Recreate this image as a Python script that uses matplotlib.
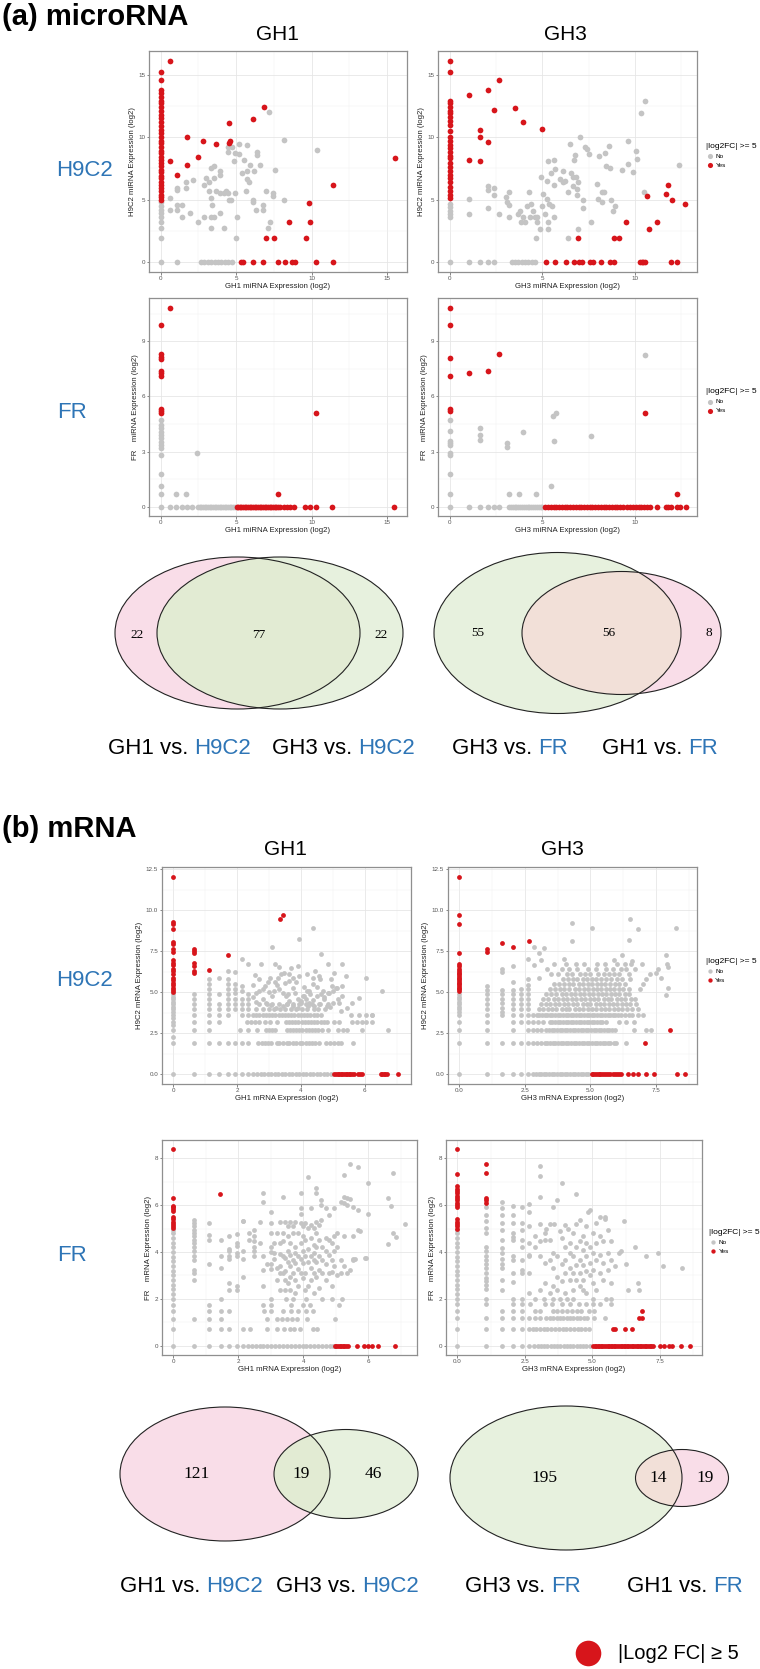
import numpy as np
import matplotlib
matplotlib.use('Agg')
import matplotlib.pyplot as plt
from matplotlib.patches import Ellipse

plt.rcParams['font.family'] = ['Liberation Sans', 'DejaVu Sans']

# ---------------------------------------------------------------- data
RED = '#D7151B'
GRAY = '#C4C4C4'
BLUE = '#2E75B6'

# (a) microRNA, H9C2 vs GH1
a1_red_cols = {0.0: [15.2, 14.6, 13.8, 13.5, 13.2, 12.9, 12.7, 12.4, 12.1, 11.8, 11.5, 11.2, 10.9, 10.6,
                     10.3, 10.0, 9.7, 9.5, 9.2, 8.9, 8.7, 8.4, 8.2, 7.9, 7.7, 7.4, 7.2, 6.9, 6.7, 6.4,
                     6.2, 5.9, 5.7, 5.4, 5.2, 5.0]}
a1_red_rows = {0.0: [5.35, 5.45, 6.1, 6.8, 7.8, 8.25, 8.7, 8.9, 10.3, 11.4]}
a1_red_pairs = [(0.64, 16.1), (0.64, 8.1), (1.1, 7.0), (1.75, 10.0), (1.75, 7.8), (2.5, 8.4), (2.8, 9.7),
                (3.65, 9.45), (4.5, 11.15), (4.5, 9.55), (4.6, 9.7), (6.1, 11.45), (6.85, 12.4),
                (9.85, 4.7), (11.4, 6.2), (8.5, 3.2), (9.9, 3.2), (7.0, 1.9), (7.5, 1.9), (9.6, 1.9),
                (15.55, 8.3)]
a1_gray_cols = {0.0: [0, 1.9, 2.7, 3.2, 3.6, 3.9, 4.2, 4.5, 4.8]}
a1_gray_rows = {0.0: [1.1, 2.65, 2.85, 3.13, 3.36, 3.58, 3.8, 4.02, 4.24, 4.46, 4.72]}
a1_gray_pairs = [(0.64, 5.1), (0.64, 4.15), (1.1, 5.95), (1.1, 5.8), (1.1, 4.55), (1.1, 4.15), (1.43, 4.55),
                 (1.43, 3.6), (1.7, 6.4), (1.7, 5.9), (1.96, 3.9), (2.14, 6.6), (2.5, 3.2), (2.85, 6.2),
                 (3.0, 6.7), (2.9, 3.6), (3.2, 6.4), (3.2, 5.7), (3.3, 7.5), (3.3, 5.1), (3.3, 3.6),
                 (3.3, 2.7), (3.5, 7.7), (3.5, 6.7), (3.5, 3.6), (3.4, 4.55), (3.65, 5.7), (3.9, 6.95),
                 (3.9, 3.9), (3.9, 7.3), (3.95, 5.55), (4.2, 2.7), (4.2, 5.5), (4.35, 5.7), (4.45, 9.2),
                 (4.45, 8.8), (4.45, 5.5), (4.5, 5.0), (4.65, 5.0), (4.75, 9.2), (4.85, 8.1), (4.9, 8.7),
                 (4.9, 5.55), (5.0, 1.9), (5.05, 3.6), (5.2, 9.45), (5.2, 8.65), (5.4, 7.15), (5.5, 8.15),
                 (5.65, 5.65), (5.7, 9.35), (5.7, 7.3), (5.75, 6.65), (5.85, 6.4), (5.95, 7.8), (6.1, 5.0),
                 (6.15, 4.8), (6.2, 7.3), (6.3, 4.15), (6.35, 8.8), (6.35, 8.55), (6.55, 7.75), (6.75, 4.55),
                 (6.75, 4.15), (7.0, 5.65), (7.1, 2.7), (7.2, 12.0), (7.25, 3.2), (7.45, 5.5), (7.45, 5.3),
                 (7.6, 7.35), (8.15, 9.75), (8.15, 5.0), (10.35, 8.95)]

# (a) microRNA, H9C2 vs GH3
a2_red_cols = {0.0: [16.1, 15.2, 12.9, 12.7, 12.4, 12.1, 11.9, 11.6, 11.3, 11.0, 10.5, 10.0, 9.7, 9.4, 9.1,
                     8.8, 8.5, 8.3, 7.9, 7.6, 7.3, 7.0, 6.7, 6.4, 6.0, 5.7, 5.4, 5.1]}
a2_red_rows = {0.0: [5.18, 5.68, 6.26, 6.73, 6.96, 7.12, 7.57, 7.75, 8.15, 8.65, 8.87, 10.27, 10.36, 10.45,
                     10.54, 11.92, 12.25]}
a2_red_pairs = [(1.04, 13.35), (2.05, 13.75), (2.63, 14.55), (2.37, 12.2), (3.53, 12.35), (3.97, 11.23),
                (4.96, 10.64), (1.64, 10.6), (1.64, 10.0), (2.05, 9.63), (1.04, 8.2), (1.64, 8.1),
                (10.65, 5.27), (11.78, 6.2), (11.67, 5.45), (11.98, 4.97), (12.7, 4.68), (11.17, 3.2),
                (10.77, 2.67), (9.51, 3.2), (6.9, 1.9), (8.87, 1.9), (9.14, 1.9)]
a2_gray_cols = {0.0: [0, 3.6, 3.85, 4.1, 4.4, 4.65]}
a2_gray_rows = {0.0: [1.04, 1.64, 2.05, 2.37, 3.35, 3.53, 3.7, 3.88, 4.06, 4.24, 4.42, 4.6]}
a2_gray_pairs = [(1.04, 5.05), (1.04, 3.85), (2.05, 6.12), (2.05, 5.78), (2.05, 4.3), (2.37, 5.9), (2.37, 5.37),
                 (2.63, 3.85), (3.04, 5.24), (3.08, 4.84), (3.22, 5.64), (3.22, 4.57), (3.22, 3.58),
                 (3.7, 3.85), (3.79, 4.12), (3.85, 3.2), (3.94, 3.58), (4.06, 3.2), (4.15, 4.52), (4.3, 5.64),
                 (4.33, 3.58), (4.39, 4.65), (4.51, 4.12), (4.6, 3.58), (4.66, 1.9), (4.73, 3.2), (4.73, 3.58),
                 (4.87, 2.67), (4.91, 6.79), (5.0, 4.52), (5.02, 5.45), (5.14, 3.85), (5.23, 6.52),
                 (5.27, 5.05), (5.3, 3.2), (5.3, 2.67), (5.32, 8.07), (5.38, 4.65), (5.45, 7.11), (5.5, 4.52),
                 (5.6, 6.2), (5.6, 8.18), (5.63, 3.58), (5.68, 7.46), (5.95, 6.66), (6.1, 7.27), (6.13, 6.39),
                 (6.22, 6.52), (6.4, 5.64), (6.4, 1.9), (6.49, 9.44), (6.53, 7.11), (6.64, 6.79), (6.67, 6.12),
                 (6.71, 8.18), (6.76, 8.58), (6.82, 6.79), (6.85, 5.86), (6.89, 5.37), (6.94, 6.39),
                 (6.94, 2.67), (7.03, 10.03), (7.21, 5.0), (7.21, 4.33), (7.3, 9.2), (7.43, 9.09), (7.54, 8.66),
                 (7.61, 3.2), (7.97, 6.26), (8.02, 5.05), (8.07, 8.53), (8.2, 5.59), (8.2, 4.79), (8.33, 5.64),
                 (8.38, 8.74), (8.43, 7.65), (8.62, 9.33), (8.65, 7.51), (8.69, 4.97), (8.79, 4.12),
                 (8.92, 4.52), (9.28, 7.33), (9.64, 9.73), (9.64, 7.81), (9.91, 7.19), (10.04, 8.93),
                 (10.09, 8.26), (10.31, 11.95), (10.54, 12.89), (10.49, 5.64), (12.39, 7.78)]

# (a) microRNA, FR vs GH1
a3_red_cols = {0.0: [9.86, 8.28, 8.16, 8.03, 7.38, 7.25, 7.12, 5.29, 5.22, 5.11]}
a3_red_rows = {0.0: [5.06, 5.15, 5.23, 5.34, 5.45, 5.56, 5.67, 5.78, 5.89, 6.0, 6.11, 6.22, 6.34, 6.45, 6.56,
                     6.67, 6.78, 6.89, 7.0, 7.11, 7.22, 7.33, 7.44, 7.55, 7.66, 7.77, 7.88, 8.15, 8.37, 8.59,
                     8.81, 9.56, 9.91, 10.31, 11.35, 15.5]}
a3_red_pairs = [(0.6, 10.8), (10.29, 5.11), (7.77, 0.69)]
a3_gray_cols = {0.0: [0, 0.69, 1.14, 1.78, 2.81, 3.21, 3.35, 3.53, 3.72, 3.9, 4.08, 4.26, 4.44, 4.71]}
a3_gray_rows = {0.0: [0.6, 1.04, 1.41, 1.74, 2.08, 2.47, 2.58, 2.69, 2.8, 2.91, 3.02, 3.13, 3.24, 3.36, 3.47,
                      3.58, 3.69, 3.8, 3.91, 4.02, 4.13, 4.24, 4.35, 4.46, 4.57, 4.68, 4.79, 4.9]}
a3_gray_pairs = [(2.43, 2.92), (1.04, 0.69), (1.7, 0.69)]

# (a) microRNA, FR vs GH3
a4_red_cols = {0.0: [10.8, 9.86, 8.08, 7.12, 5.29, 5.22]}
a4_red_rows = {0.0: [5.15, 5.3, 5.45, 5.6, 5.75, 5.9, 6.05, 6.2, 6.35, 6.5, 6.65, 6.8, 6.95, 7.1, 7.25, 7.4,
                     7.55, 7.7, 7.85, 8.0, 8.15, 8.3, 8.45, 8.6, 8.75, 8.9, 9.05, 9.2, 9.35, 9.55, 9.75, 9.9,
                     10.05, 10.2, 10.35, 10.5, 10.65, 10.8, 11.2, 11.67, 11.8, 11.92, 12.25, 12.43, 12.73]}
a4_red_pairs = [(1.04, 7.25), (2.05, 7.38), (2.64, 8.28), (10.56, 5.11), (12.25, 0.69)]
a4_gray_cols = {0.0: [0, 0.69, 1.78, 2.81, 2.94, 3.37, 3.48, 3.59, 4.1, 4.71]}
a4_gray_rows = {0.0: [1.04, 1.64, 2.05, 2.37, 2.64, 3.2, 3.3, 3.4, 3.5, 3.6, 3.7, 3.8, 3.9, 4.0, 4.1, 4.2,
                      4.3, 4.4, 4.5, 4.6, 4.7, 4.8, 4.9, 4.97]}
a4_gray_pairs = [(1.64, 4.3), (1.64, 3.93), (1.64, 3.63), (3.08, 3.48), (3.08, 3.23), (3.22, 0.69),
                 (3.76, 0.69), (3.97, 4.06), (4.66, 0.69), (5.49, 1.14), (5.59, 4.93), (5.72, 5.11),
                 (5.65, 3.57), (7.61, 3.84), (10.56, 8.23)]

# (b) mRNA, H9C2 vs GH1
b1_red_cols = {0.0: [12.05, 9.29, 9.15, 8.84, 8.09, 7.93, 7.62, 7.46, 6.95, 6.81, 6.65, 6.44, 6.3, 6.1, 5.89,
                     5.75, 5.59, 5.43, 5.28, 5.14, 5.02],
               0.66: [7.62, 7.52, 7.38, 6.81, 6.6, 6.3, 6.15]}
b1_red_rows = {0.0: [5.05, 5.1, 5.15, 5.2, 5.25, 5.3, 5.35, 5.4, 5.45, 5.5, 5.55, 5.6, 5.65, 5.8, 5.85, 5.9,
                     6.5, 6.55, 6.6, 6.65, 6.7, 7.05]}
b1_red_pairs = [(1.11, 6.34), (1.72, 7.3), (3.36, 9.45), (3.43, 9.72)]
b1_gray_cols = {0.0: [0, 1.91, 2.3, 2.7, 3.0, 3.2, 3.4, 3.6, 3.8, 3.96, 4.1, 4.27, 4.4, 4.57, 4.7, 4.88],
                0.66: [1.91, 2.7, 3.2, 3.6, 3.96, 4.27, 4.57, 4.88],
                1.11: [1.91, 2.7, 3.2, 3.6, 3.96, 4.27, 4.57, 4.88, 5.18, 5.49, 5.83],
                1.45: [1.91, 3.2, 3.6, 3.96, 4.27, 4.88, 5.9],
                1.72: [1.91, 3.6, 3.96, 4.27, 4.57, 4.88, 5.18, 5.49, 5.8, 6.3],
                1.95: [1.91, 3.96, 4.27, 4.57, 4.98, 5.18, 5.49, 6.24],
                2.17: [1.91, 3.6, 3.96, 4.27, 4.57, 5.08, 5.39, 7.05],
                2.34: [1.91, 2.7, 3.6, 3.96, 4.27, 4.57, 4.88, 6.7]}
b1_gray_rows = {0.0: [0.66, 1.11, 1.45, 1.72, 1.95, 2.17, 2.34, 2.5, 2.62, 2.74, 2.85, 2.96, 3.07, 3.18, 3.29,
                      3.4, 3.51, 3.62, 3.73, 3.84, 3.95, 4.06, 4.17, 4.28, 4.39, 4.5, 4.61, 4.72, 4.83, 4.94],
                1.91: [2.65, 2.77, 2.87, 2.96, 3.08, 3.24, 3.33, 3.43, 3.55, 3.64, 3.74, 3.86, 3.96, 4.05, 4.17,
                       4.27, 4.36, 4.45, 4.58, 4.8, 4.92, 5.05, 5.17, 5.26, 5.64],
                2.7: [2.1, 2.62, 2.9, 3.0, 3.1, 3.2, 3.55, 3.65, 3.75, 3.85, 3.95, 4.05, 4.15, 4.25, 4.35, 4.45,
                      4.55, 4.65, 4.85, 5.15, 5.32, 5.45, 5.9, 6.73],
                3.2: [2.3, 2.43, 2.55, 2.68, 2.87, 3.02, 3.24, 3.52, 3.62, 3.72, 3.82, 3.92, 4.02, 4.12, 4.22,
                      4.32, 4.42, 4.52, 4.62, 4.72, 4.83, 5.05, 5.2, 5.6, 5.76, 5.9, 6.05, 6.23],
                3.6: [2.49, 2.6, 2.7, 2.8, 2.9, 3.0, 3.1, 3.2, 3.3, 3.4, 3.5, 3.6, 3.7, 3.8, 3.9, 4.0, 4.1, 4.2,
                      4.3, 4.4, 4.5, 4.64, 5.58, 5.83, 6.04, 6.23],
                3.96: [2.6, 2.8, 3.0, 3.15, 3.35, 3.5, 3.7, 3.85, 4.2, 4.4, 4.55, 4.75],
                4.27: [2.7, 2.95, 3.1, 3.3, 3.55, 3.75, 3.95, 4.15, 4.35, 4.6, 4.85]}
b1_gray_pairs = [(3.93, 8.23), (3.09, 7.76), (3.9, 6.61), (4.64, 7.32), (4.38, 5.89), (4.57, 6.0), (4.39, 5.49),
                 (3.74, 5.28), (3.82, 4.98), (4.1, 4.78), (4.26, 5.08), (4.16, 4.57), (4.0, 4.37), (3.64, 4.47),
                 (3.53, 4.78), (3.43, 4.98), (3.32, 5.18), (3.24, 5.43), (3.2, 5.65), (3.27, 5.89), (3.38, 6.1),
                 (3.48, 6.2), (3.62, 6.1), (3.74, 5.89), (3.64, 5.69), (3.51, 5.55), (3.04, 5.89), (2.96, 5.65),
                 (2.89, 5.39), (2.81, 5.18), (2.7, 5.08), (2.6, 4.98), (2.49, 5.43), (2.81, 4.57), (2.91, 4.37),
                 (3.06, 4.2), (3.22, 4.07), (3.43, 4.17), (3.74, 4.17), (3.9, 4.07), (4.05, 3.96), (4.21, 4.17),
                 (4.42, 4.17), (4.57, 4.27), (4.73, 4.57), (4.88, 4.98), (4.99, 5.39), (5.14, 5.28), (5.3, 5.39),
                 (5.4, 6.0), (4.83, 4.17), (5.02, 4.33), (5.17, 4.57), (5.3, 4.78), (5.45, 4.07), (5.61, 4.37),
                 (5.82, 4.67), (6.23, 3.6), (4.37, 8.94), (4.84, 6.7), (5.3, 6.7), (5.05, 6.2), (4.94, 5.8),
                 (4.6, 5.83), (6.05, 5.9), (6.53, 5.08), (5.25, 3.86), (5.2, 4.33), (4.92, 4.13), (5.1, 5.28),
                 (5.0, 5.08), (4.84, 4.98), (4.63, 4.88), (4.49, 4.78), (4.73, 4.72), (4.37, 4.53), (4.27, 4.37),
                 (4.18, 5.08), (4.06, 4.78), (4.0, 4.47), (2.75, 6.7), (3.3, 6.55), (3.2, 6.7), (2.5, 4.7),
                 (2.6, 4.4), (3.1, 4.8), (3.6, 4.9), (3.85, 5.6), (4.1, 5.3), (3.95, 6.0), (4.5, 5.3), (4.7, 5.1),
                 (3.0, 5.0), (3.15, 5.1), (3.9, 4.6), (3.55, 4.3), (4.3, 4.9), (4.45, 6.3), (3.7, 6.5),
                 (4.2, 6.1), (2.55, 6.05), (2.7, 5.8)]

# (b) mRNA, H9C2 vs GH3
b2_red_cols = {0.0: [12.05, 9.7, 9.17, 7.38, 6.75, 6.6, 6.44, 6.3, 6.2, 6.1, 6.0, 5.9, 5.79, 5.69, 5.59, 5.49,
                     5.39, 5.28, 5.18, 5.08]}
b2_red_rows = {0.0: [5.04, 5.1, 5.17, 5.24, 5.31, 5.38, 5.45, 5.52, 5.6, 5.68, 5.76, 5.84, 5.92, 6.0, 6.08,
                     6.18, 6.43, 6.62, 6.81, 7.13, 7.41, 8.31, 8.62]}
b2_red_pairs = [(1.04, 7.62), (1.04, 7.46), (1.62, 8.0), (2.06, 7.76), (2.64, 8.11), (8.02, 2.7), (7.09, 1.91)]
b2_gray_cols = {0.0: [0, 1.91, 2.7, 3.2, 3.6, 3.8, 3.96, 4.1, 4.27, 4.4, 4.57, 4.7, 4.88],
                1.04: [0, 1.91, 2.7, 3.2, 3.6, 3.96, 4.27, 4.57, 4.88, 5.14, 5.39],
                1.62: [0, 1.91, 3.6, 3.8, 4.07, 4.33, 4.61, 4.88, 5.12, 6.26, 6.4],
                2.06: [0, 1.91, 2.7, 3.2, 3.6, 3.96, 4.27, 4.61, 4.92, 5.12, 5.65, 6.6],
                2.37: [0, 1.91, 3.2, 3.6, 3.96, 4.27, 4.57, 4.88, 5.18],
                2.63: [0, 1.91, 2.7, 3.2, 3.6, 3.96, 4.27, 4.57, 4.88, 5.18, 5.45, 5.83, 7.05]}
b2_gray_rows = {0.0: [2.82, 2.92, 3.02, 3.12, 3.22, 3.32, 3.42, 3.52, 3.62, 3.72, 3.82, 3.92, 4.02, 4.12, 4.22,
                      4.32, 4.42, 4.52, 4.62, 4.72, 4.82, 4.92],
                1.91: [2.82, 2.97, 3.1, 3.26, 3.36, 3.46, 3.56, 3.66, 3.76, 3.86, 3.96, 4.06, 4.16, 4.26, 4.36,
                       4.46, 4.56, 4.66, 4.76, 4.86, 4.96, 5.06, 5.16, 5.26, 5.36, 5.46, 5.56, 5.66, 5.76, 5.88,
                       5.99, 6.35],
                2.7: [2.82, 2.97, 3.13, 3.32, 3.42, 3.52, 3.62, 3.72, 3.82, 3.92, 4.02, 4.12, 4.22, 4.32, 4.42,
                      4.52, 4.62, 4.72, 4.82, 4.92, 5.02, 5.12, 5.22, 5.32, 5.42, 5.52, 5.62, 5.72, 5.82, 5.93,
                      6.66, 7.13, 7.32],
                3.2: [2.82, 3.0, 3.2, 3.45, 3.55, 3.65, 3.75, 3.85, 3.95, 4.05, 4.15, 4.25, 4.35, 4.45, 4.55,
                      4.65, 4.75, 4.85, 4.95, 5.05, 5.15, 5.25, 5.35, 5.45, 5.6, 6.09, 6.37, 6.66],
                3.6: [2.82, 2.95, 3.05, 3.15, 3.25, 3.35, 3.45, 3.55, 3.65, 3.75, 3.85, 3.95, 4.05, 4.15, 4.25,
                      4.35, 4.45, 4.55, 4.65, 4.75, 4.85, 4.95, 5.05, 5.15, 5.25, 5.35, 5.45, 5.55, 5.65, 5.75,
                      5.85, 5.95, 6.05, 6.15, 6.3, 6.45, 6.6, 6.8, 7.0],
                3.96: [3.05, 3.2, 3.4, 3.55, 3.7, 3.9, 4.05, 4.2, 4.4, 4.55, 4.7, 4.9, 5.05, 5.2, 5.4, 5.55, 5.7,
                       5.9, 6.05, 6.2, 6.4, 6.6, 6.8],
                4.27: [3.1, 3.3, 3.45, 3.65, 3.8, 4.0, 4.15, 4.35, 4.5, 4.7, 4.85, 5.0, 5.2, 5.35, 5.5, 5.7, 5.85,
                       6.0, 6.2, 6.35, 6.5, 6.75],
                4.57: [3.2, 3.4, 3.6, 3.75, 3.95, 4.1, 4.3, 4.45, 4.65, 4.8, 5.0, 5.15, 5.3, 5.5, 5.65, 5.8, 6.0,
                       6.15, 6.3, 6.55, 6.7],
                4.88: [3.3, 3.5, 3.7, 3.9, 4.05, 4.25, 4.4, 4.6, 4.75, 4.95, 5.1, 5.3, 5.45, 5.6, 5.8, 5.95, 6.1,
                       6.3, 6.45],
                5.18: [3.45, 3.65, 3.85, 4.0, 4.2, 4.4, 4.55, 4.75, 4.9, 5.1, 5.25, 5.4, 5.6, 5.75, 5.9, 6.1,
                       6.25, 6.45, 6.9],
                5.49: [3.6, 3.8, 4.0, 4.2, 4.35, 4.55, 4.7, 4.9, 5.05, 5.25, 5.4, 5.55, 5.75, 5.95, 6.1, 6.3, 7.0],
                5.8: [3.95, 4.15, 4.35, 4.5, 4.7, 4.85, 5.05, 5.2, 5.4, 5.6, 5.8, 6.0, 6.2, 6.5, 7.1],
                6.1: [3.5, 3.75, 4.1, 4.3, 4.6, 4.8, 5.0, 5.3, 5.5, 5.7, 5.9, 6.1, 6.45, 7.25],
                6.4: [3.35, 3.9, 4.2, 4.5, 4.9, 5.2, 5.6, 5.85, 6.15, 6.35, 6.7, 7.58],
                6.7: [3.6, 4.05, 4.45, 4.75, 5.25, 5.55, 6.0, 6.3, 6.55, 6.95, 7.9]}
b2_gray_pairs = [(4.31, 9.25), (4.31, 8.11), (5.06, 8.9), (6.52, 9.45), (6.81, 8.84), (6.45, 8.19), (8.27, 8.92),
                 (6.19, 7.3), (7.87, 7.3), (7.96, 6.57), (7.68, 5.89), (7.96, 5.28), (7.89, 4.84), (2.86, 7.78),
                 (3.05, 7.42), (3.22, 7.7), (2.86, 6.65), (3.05, 5.89), (4.0, 7.05), (3.1, 7.0), (5.9, 7.0),
                 (6.6, 6.9), (7.5, 6.2)]

# (b) mRNA, FR vs GH1
b3_red_cols = {0.0: [8.38, 6.32, 5.98, 5.9, 5.82, 5.75, 5.5, 5.4, 5.3, 5.2, 5.1, 5.02]}
b3_red_rows = {0.0: [4.97, 5.02, 5.07, 5.12, 5.17, 5.22, 5.27, 5.32, 5.37, 5.66, 5.88, 6.0, 6.12, 6.3, 6.83]}
b3_red_pairs = [(1.44, 6.46)]
b3_gray_cols = {0.0: [0, 0.71, 1.15, 1.46, 1.75, 2.0, 2.2, 2.4, 2.6, 2.8, 3.0, 3.2, 3.4, 3.6, 3.8, 4.0, 4.2,
                      4.4, 4.6, 4.8, 4.95],
                0.64: [0, 1.15, 2.81, 3.1, 3.24, 3.66, 3.81, 4.02, 4.23, 4.38, 4.52, 4.66, 4.8, 4.94, 5.09,
                       5.23, 5.37],
                1.11: [0, 0.71, 1.15, 1.46, 1.75, 3.49, 4.52, 4.73, 5.23],
                1.46: [0, 0.71, 1.15, 1.46, 2.0, 3.31, 3.81, 4.52],
                1.73: [0, 0.71, 1.46, 2.39, 2.67, 3.69, 3.81, 4.02, 4.12, 4.7],
                1.98: [0, 2.39, 2.53, 3.81, 3.95, 4.26, 4.38, 4.76],
                2.16: [0, 0.71, 2.93, 3.69, 4.02, 5.33]}
b3_gray_rows = {0.0: [2.3, 2.42, 2.54, 2.66, 2.78, 2.9, 3.02, 3.14, 3.26, 3.38, 3.5, 3.62, 3.74, 3.86, 3.98,
                      4.1, 4.22, 4.34, 4.46, 4.58, 4.7, 4.82, 4.92],
                0.71: [2.37, 2.89, 3.2, 3.42, 3.58, 3.72, 3.91, 4.31, 4.43],
                1.15: [2.89, 3.2, 3.35, 3.5, 3.66, 3.81, 4.12, 4.98],
                1.46: [2.8, 3.02, 3.38, 3.63, 3.85, 4.09, 4.31],
                1.75: [2.77, 3.02, 3.63, 4.0, 4.22, 5.1],
                2.0: [3.0, 3.48, 3.7, 4.09, 4.59, 4.9, 5.18]}
b3_gray_pairs = [(2.35, 4.83), (2.35, 4.52), (2.49, 4.94), (2.49, 4.66), (2.49, 4.45), (2.49, 4.23), (2.49, 4.02),
                 (2.49, 3.81), (2.66, 5.27), (2.66, 4.4), (2.78, 6.53), (2.78, 6.12), (2.78, 3.81), (2.78, 3.24),
                 (2.78, 2.53), (2.89, 3.49), (3.01, 5.72), (3.01, 5.23), (3.01, 4.8), (3.01, 4.23), (3.01, 3.98),
                 (3.01, 3.49), (3.01, 3.28), (3.09, 4.38), (3.09, 3.95), (3.09, 3.69), (3.2, 4.83), (3.2, 3.31),
                 (3.2, 2.81), (3.3, 5.26), (3.3, 4.4), (3.3, 3.91), (3.3, 3.38), (3.3, 3.1), (3.3, 2.39),
                 (3.38, 6.34), (3.38, 4.8), (3.38, 4.45), (3.38, 3.81), (3.38, 3.1), (3.45, 5.3), (3.45, 3.74),
                 (3.45, 3.17), (3.45, 2.81), (3.45, 2.39), (3.53, 5.09), (3.53, 4.66), (3.53, 4.02), (3.53, 3.59),
                 (3.53, 2.67), (3.61, 5.27), (3.61, 4.38), (3.61, 3.88), (3.61, 3.38), (3.61, 2.95), (3.61, 2.39),
                 (3.69, 5.09), (3.69, 4.8), (3.69, 3.66), (3.69, 3.1), (3.76, 5.3), (3.76, 4.23), (3.76, 3.95),
                 (3.76, 3.52), (3.76, 2.81), (3.76, 2.24), (3.85, 4.8), (3.85, 3.81), (3.85, 3.27), (3.85, 2.53),
                 (3.92, 6.51), (3.92, 5.87), (3.92, 5.63), (3.92, 5.23), (3.92, 4.38), (3.92, 3.69), (3.92, 3.1),
                 (4.0, 5.09), (4.0, 4.66), (4.0, 4.02), (4.0, 3.52), (4.0, 2.88), (4.07, 5.23), (4.07, 4.52),
                 (4.07, 3.81), (4.07, 3.1), (4.07, 2.39), (4.14, 7.22), (4.14, 5.01), (4.14, 4.12), (4.14, 3.55),
                 (4.14, 2.53), (4.23, 5.87), (4.23, 5.16), (4.23, 4.59), (4.23, 3.81), (4.23, 3.31), (4.23, 2.81),
                 (4.33, 5.01), (4.33, 4.3), (4.33, 3.95), (4.33, 3.66), (4.33, 3.1), (4.33, 2.24), (4.41, 6.72),
                 (4.41, 6.53), (4.41, 5.26), (4.41, 4.8), (4.41, 4.23), (4.41, 3.59), (4.41, 2.95), (4.49, 5.16),
                 (4.49, 4.52), (4.49, 3.81), (4.49, 3.24), (4.49, 2.46), (4.54, 6.22), (4.54, 6.01), (4.54, 5.37),
                 (4.59, 4.23), (4.59, 3.66), (4.59, 3.1), (4.69, 5.89), (4.69, 4.59), (4.69, 4.02), (4.69, 3.49),
                 (4.69, 2.81), (4.79, 5.58), (4.79, 4.52), (4.79, 3.88), (4.79, 3.1), (4.88, 4.38), (4.88, 3.66),
                 (4.88, 3.15), (4.88, 2.53), (4.95, 5.87), (4.95, 4.66), (4.95, 4.02), (4.95, 3.41), (5.05, 4.8),
                 (5.05, 4.23), (5.05, 3.03), (5.15, 6.15), (5.15, 3.66), (5.15, 3.1), (5.26, 7.29), (5.26, 6.36),
                 (5.26, 6.08), (5.26, 4.66), (5.26, 3.38), (5.36, 6.29), (5.36, 6.01), (5.36, 3.1), (5.44, 7.74),
                 (5.44, 6.25), (5.44, 3.24), (5.52, 5.94), (5.52, 4.66), (5.52, 3.66), (5.59, 3.69), (5.69, 7.64),
                 (5.69, 5.8), (5.69, 4.94), (5.75, 4.9), (5.93, 3.74), (5.98, 5.63), (5.98, 6.93), (6.77, 7.36),
                 (6.71, 5.98), (6.62, 6.29), (6.77, 4.8), (6.86, 4.62), (6.62, 4.33), (7.14, 5.18), (5.91, 3.76),
                 (5.54, 3.69), (2.16, 5.33)]

# (b) mRNA, FR vs GH3
b4_red_cols = {0.0: [8.39, 7.32, 6.8, 6.7, 6.6, 6.5, 6.4, 6.3, 6.2, 6.1, 6.0, 5.9, 5.4, 5.3, 5.2, 5.1, 5.0],
               1.06: [7.77, 7.39, 6.32, 6.22, 6.11]}
b4_red_rows = {0.0: [5.02, 5.09, 5.14, 5.21, 5.26, 5.33, 5.38, 5.45, 5.5, 5.57, 5.62, 5.69, 5.74, 5.81, 5.86,
                     5.93, 5.98, 6.05, 6.1, 6.17, 6.22, 6.29, 6.34, 6.41, 6.46, 6.53, 6.58, 6.65, 6.7, 6.77,
                     6.82, 6.89, 6.94, 7.01, 7.06, 7.13, 7.18, 7.26, 7.5, 7.65, 7.85, 7.95, 8.3, 8.62]}
b4_red_pairs = [(6.83, 1.49), (6.72, 1.19), (6.83, 1.19), (5.76, 0.72), (5.85, 0.72), (6.2, 0.72), (6.49, 0.72)]
b4_gray_cols = {0.0: [0, 0.72, 1.19, 1.49, 1.78, 2.0, 2.2, 2.4, 2.6, 2.8, 3.0, 3.2, 3.4, 3.6, 3.8, 4.0, 4.2,
                      4.4, 4.6, 4.8, 4.95],
                1.06: [0, 0.72, 1.19, 1.78, 2.0, 2.41, 2.6, 2.74, 2.88, 3.1, 3.31, 3.49, 3.66, 3.81, 4.02,
                       4.23, 4.8, 5.01, 5.33, 5.58, 5.94],
                1.65: [0, 0.72, 1.19, 1.49, 2.39, 2.81, 3.31, 3.49, 3.69, 3.95, 4.16, 4.52, 4.94, 5.23, 5.58,
                       5.87, 6.12],
                2.08: [0, 0.72, 1.19, 1.49, 1.78, 2.0, 2.7, 3.12, 3.66, 3.81, 4.52, 4.62, 4.8, 5.23, 5.58, 5.98],
                2.39: [0, 0.72, 1.19, 1.49, 1.78, 2.0, 3.1, 3.24, 3.66, 4.23, 4.52, 4.94, 5.23, 5.91],
                2.66: [0, 0.72, 1.19, 2.24, 3.1, 3.81, 3.88, 4.38, 5.09, 5.7, 6.04]}
b4_gray_rows = {0.0: [2.85, 2.98, 3.1, 3.22, 3.34, 3.46, 3.58, 3.7, 3.82, 3.94, 4.06, 4.18, 4.3, 4.42, 4.54,
                      4.66, 4.78, 4.9],
                0.72: [2.8, 2.92, 3.06, 3.2, 3.34, 3.48, 3.62, 3.76, 3.9, 4.04, 4.18, 4.32, 4.46, 4.6, 4.74, 4.87],
                1.19: [2.88, 3.06, 3.3, 3.42, 3.55, 3.68, 3.8, 3.92, 4.05, 4.18, 4.3, 4.42, 4.55, 4.68, 4.8,
                       5.05, 5.49],
                1.49: [2.88, 3.06, 3.53, 3.7, 3.88, 4.05, 4.24, 4.42, 4.6, 4.87, 5.05],
                1.78: [2.7, 3.25, 3.5, 3.88, 4.17, 4.5, 4.78, 5.03, 5.3, 5.71],
                2.0: [2.88, 3.2, 3.55, 3.8, 4.05, 4.29, 5.03, 5.52, 5.71]}
b4_gray_pairs = [(2.88, 4.66), (2.88, 4.23), (3.06, 7.67), (3.06, 7.24), (3.06, 6.36), (3.06, 5.18), (3.06, 4.45),
                 (3.06, 3.81), (3.06, 2.39), (3.25, 4.83), (3.25, 4.52), (3.25, 3.52), (3.25, 2.67), (3.43, 5.18),
                 (3.43, 4.52), (3.43, 3.66), (3.43, 2.24), (3.55, 5.94), (3.55, 3.95), (3.55, 3.31), (3.55, 2.53),
                 (3.68, 6.22), (3.68, 3.81), (3.68, 2.95), (3.68, 2.39), (3.89, 6.96), (3.89, 4.59), (3.89, 3.49),
                 (3.89, 2.74), (3.99, 5.16), (3.99, 4.23), (3.99, 3.66), (3.99, 3.1), (3.99, 2.24), (4.17, 4.4),
                 (4.17, 3.95), (4.17, 3.31), (4.17, 2.81), (4.29, 4.8), (4.29, 3.81), (4.29, 3.1), (4.29, 2.39),
                 (4.39, 6.48), (4.39, 4.23), (4.39, 3.45), (4.39, 2.81), (4.54, 5.37), (4.54, 4.45), (4.54, 3.66),
                 (4.54, 3.1), (4.54, 2.53), (4.66, 4.66), (4.66, 4.09), (4.66, 3.45), (4.66, 2.81), (4.66, 2.39),
                 (4.78, 5.09), (4.78, 4.38), (4.78, 3.81), (4.78, 3.17), (4.78, 2.24), (4.85, 5.72), (4.93, 5.77),
                 (4.91, 4.23), (4.91, 3.52), (4.91, 3.03), (5.03, 4.8), (5.03, 3.95), (5.03, 3.24), (5.03, 2.67),
                 (5.15, 5.23), (5.15, 4.38), (5.15, 3.66), (5.15, 2.39), (5.28, 5.51), (5.28, 4.66), (5.28, 3.88),
                 (5.28, 3.1), (5.4, 4.45), (5.4, 3.52), (5.4, 2.81), (5.46, 5.51), (5.46, 5.4), (5.58, 4.94),
                 (5.58, 3.95), (5.58, 3.24), (5.71, 4.45), (5.71, 3.66), (5.71, 2.67), (5.83, 3.38), (6.01, 3.95),
                 (6.08, 4.02), (6.16, 5.34), (6.26, 3.49), (6.32, 2.39), (6.57, 4.2), (6.69, 2.67), (6.75, 2.39),
                 (7.0, 3.84), (7.44, 3.95), (7.64, 3.41), (8.33, 3.32), (3.3, 5.0), (3.6, 5.2), (3.8, 4.9),
                 (4.1, 5.0), (4.4, 5.2)]

# Venn counts (only-left, shared, only-right)
venn_a_h9c2 = [22, 77, 22]
venn_a_fr = [55, 56, 8]
venn_b_h9c2 = [121, 19, 46]
venn_b_fr = [195, 14, 19]

# ---------------------------------------------------------------- layout helpers
W, H = 760, 1669
fig = plt.figure(figsize=(W / 100, H / 100), dpi=100)
fig.patch.set_facecolor('white')

bg = fig.add_axes([0, 0, 1, 1])
bg.set_xlim(0, W)
bg.set_ylim(H, 0)
bg.axis('off')


def rect(l, t, r, b):
    return [l / W, 1 - b / H, (r - l) / W, (b - t) / H]


def pts(cols, rows, pairs):
    xs, ys = [], []
    for x, yl in cols.items():
        xs += [x] * len(yl)
        ys += list(yl)
    for y, xl in rows.items():
        xs += list(xl)
        ys += [y] * len(xl)
    for x, y in pairs:
        xs.append(x)
        ys.append(y)
    return np.array(xs), np.array(ys)


def minors(ticks, lim):
    step = ticks[1] - ticks[0]
    m = [t + step / 2 for t in ticks] + [ticks[0] - step / 2]
    return [v for v in m if lim[0] < v < lim[1]]


def panel(box, gray, red, xlim, ylim, xticks, xlabels, yticks, ylabels, xlabel, ylabel, s, legend=None):
    ax = fig.add_axes(rect(*box))
    gx, gy = gray
    rx, ry = red
    hg = ax.scatter(gx, gy, s=s, c=GRAY, linewidths=0, zorder=3)
    hr = ax.scatter(rx, ry, s=s, c=RED, linewidths=0, zorder=4)
    ax.set_xlim(xlim)
    ax.set_ylim(ylim)
    ax.set_xticks(xticks)
    ax.set_xticklabels(xlabels)
    ax.set_yticks(yticks)
    ax.set_yticklabels(ylabels)
    ax.set_xticks(minors(xticks, xlim), minor=True)
    ax.set_yticks(minors(yticks, ylim), minor=True)
    ax.grid(which='major', color='#E6E6E6', lw=0.6, zorder=0)
    ax.grid(which='minor', color='#F2F2F2', lw=0.35, zorder=0)
    ax.set_axisbelow(True)
    ax.tick_params(which='minor', length=0)
    ax.tick_params(which='major', length=1.8, width=0.5, color='#555555', labelsize=4.5,
                   labelcolor='#555555', pad=1)
    for sp in ax.spines.values():
        sp.set_color('#8F8F8F')
        sp.set_linewidth(0.9)
    ax.set_xlabel(xlabel, fontsize=5.6, labelpad=1.8, color='#222222')
    ax.set_ylabel(ylabel, fontsize=5.6, labelpad=1.8, color='#222222')
    if legend is not None:
        ax.legend([hg, hr], ['No', 'Yes'], title='|log2FC| >= 5', loc='upper left',
                  bbox_to_anchor=legend, frameon=False, fontsize=4.6, title_fontsize=6,
                  handletextpad=0.3, labelspacing=0.55, borderaxespad=0, borderpad=0,
                  markerscale=0.9, handlelength=1.2, alignment='left')
    return ax


SA = 17
SB = 12
LEG = (1.035, 0.585)

panel((149, 51, 407, 272), pts(a1_gray_cols, a1_gray_rows, a1_gray_pairs),
      pts(a1_red_cols, a1_red_rows, a1_red_pairs), (-0.78, 16.33), (-0.8, 16.9),
      [0, 5, 10, 15], ['0', '5', '10', '15'], [0, 5, 10, 15], ['0', '5', '10', '15'],
      'GH1 miRNA Expression (log2)', 'H9C2 miRNA Expression (log2)', SA)
panel((438, 51, 697, 272), pts(a2_gray_cols, a2_gray_rows, a2_gray_pairs),
      pts(a2_red_cols, a2_red_rows, a2_red_pairs), (-0.64, 13.35), (-0.8, 16.9),
      [0, 5, 10], ['0', '5', '10'], [0, 5, 10, 15], ['0', '5', '10', '15'],
      'GH3 miRNA Expression (log2)', 'H9C2 miRNA Expression (log2)', SA, legend=LEG)
panel((149, 298, 407, 516), pts(a3_gray_cols, a3_gray_rows, a3_gray_pairs),
      pts(a3_red_cols, a3_red_rows, a3_red_pairs), (-0.78, 16.33), (-0.5, 11.35),
      [0, 5, 10, 15], ['0', '5', '10', '15'], [0, 3, 6, 9], ['0', '3', '6', '9'],
      'GH1 miRNA Expression (log2)', 'FR    miRNA Expression (log2)', SA)
panel((438, 298, 697, 516), pts(a4_gray_cols, a4_gray_rows, a4_gray_pairs),
      pts(a4_red_cols, a4_red_rows, a4_red_pairs), (-0.64, 13.35), (-0.5, 11.35),
      [0, 5, 10], ['0', '5', '10'], [0, 3, 6, 9], ['0', '3', '6', '9'],
      'GH3 miRNA Expression (log2)', 'FR    miRNA Expression (log2)', SA, legend=LEG)

yb = [0, 2.5, 5, 7.5, 10, 12.5]
ybl = ['0.0', '2.5', '5.0', '7.5', '10.0', '12.5']
panel((162, 867, 411, 1084), pts(b1_gray_cols, b1_gray_rows, b1_gray_pairs),
      pts(b1_red_cols, b1_red_rows, b1_red_pairs), (-0.35, 7.45), (-0.6, 12.65),
      [0, 2, 4, 6], ['0', '2', '4', '6'], yb, ybl,
      'GH1 mRNA Expression (log2)', 'H9C2 mRNA Expression (log2)', SB)
panel((448, 867, 697, 1084), pts(b2_gray_cols, b2_gray_rows, b2_gray_pairs),
      pts(b2_red_cols, b2_red_rows, b2_red_pairs), (-0.43, 9.06), (-0.6, 12.65),
      [0, 2.5, 5, 7.5], ['0.0', '2.5', '5.0', '7.5'], yb, ybl,
      'GH3 mRNA Expression (log2)', 'H9C2 mRNA Expression (log2)', SB, legend=(1.035, 0.58))
panel((162, 1140, 417, 1355), pts(b3_gray_cols, b3_gray_rows, b3_gray_pairs),
      pts(b3_red_cols, b3_red_rows, b3_red_pairs), (-0.34, 7.5), (-0.4, 8.78),
      [0, 2, 4, 6], ['0', '2', '4', '6'], [0, 2, 4, 6, 8], ['0', '2', '4', '6', '8'],
      'GH1 mRNA Expression (log2)', 'FR    mRNA Expression (log2)', SB)
panel((446, 1140, 702, 1355), pts(b4_gray_cols, b4_gray_rows, b4_gray_pairs),
      pts(b4_red_cols, b4_red_rows, b4_red_pairs), (-0.42, 9.07), (-0.4, 8.78),
      [0, 2.5, 5, 7.5], ['0.0', '2.5', '5.0', '7.5'], [0, 2, 4, 6, 8], ['0', '2', '4', '6', '8'],
      'GH3 mRNA Expression (log2)', 'FR    mRNA Expression (log2)', SB, legend=(1.027, 0.586))

# ---------------------------------------------------------------- titles & labels
bg.text(2, 17, '(a) microRNA', fontsize=21, fontweight='bold', ha='left', va='center')
bg.text(2, 829, '(b) mRNA', fontsize=21, fontweight='bold', ha='left', va='center')
for x, y, s in [(277, 35, 'GH1'), (565, 35, 'GH3'), (285, 849, 'GH1'), (562, 849, 'GH3')]:
    bg.text(x, y, s, fontsize=15, ha='center', va='center')
for x, y, s in [(85, 170, 'H9C2'), (72, 412, 'FR'), (85, 980, 'H9C2'), (72, 1255, 'FR')]:
    bg.text(x, y, s, fontsize=16, ha='center', va='center', color=BLUE)

# ---------------------------------------------------------------- venn diagrams
PINK = '#F9DDE8'
GREEN = '#E7F1DE'
OV_G = '#E2EBD3'
OV_P = '#F2E0D8'


def venn(e1, e2, c1, c2, cov, counts, pos, size):
    p1 = Ellipse(e1[:2], e1[2], e1[3], facecolor=c1, edgecolor='none', zorder=1)
    p2 = Ellipse(e2[:2], e2[2], e2[3], facecolor=c2, edgecolor='none', zorder=1)
    bg.add_patch(p1)
    bg.add_patch(p2)
    ov = Ellipse(e2[:2], e2[2], e2[3], facecolor=cov, edgecolor='none', zorder=2)
    bg.add_patch(ov)
    ov.set_clip_path(p1)
    for e in (e1, e2):
        bg.add_patch(Ellipse(e[:2], e[2], e[3], facecolor='none', edgecolor='#222222', lw=0.8, zorder=3))
    for n, (x, y) in zip(counts, pos):
        bg.text(x, y, str(n), fontsize=size, ha='center', va='center', family='Liberation Serif', zorder=4)


venn((237.5, 633, 245, 152), (280, 633, 246, 152), PINK, GREEN, OV_G, venn_a_h9c2,
     [(137, 635), (259, 635), (381, 635)], 9.5)
venn((557.5, 633, 247, 161), (621.5, 633, 199, 123), GREEN, PINK, OV_P, venn_a_fr,
     [(478, 633), (609, 633), (709, 633)], 9.5)
venn((225, 1474, 210, 134), (346, 1474, 144, 89), PINK, GREEN, OV_G, venn_b_h9c2,
     [(197, 1474), (301, 1474), (373, 1474)], 12.5)
venn((566, 1478, 232, 144), (682, 1478, 93, 57), GREEN, PINK, OV_P, venn_b_fr,
     [(544, 1478), (658, 1478), (705, 1478)], 12.5)


def two_color(x, y, a, b, size=16):
    t = bg.text(x, y, a, fontsize=size, ha='left', va='center', color='black')
    bg.annotate(b, xy=(1, 0), xycoords=t, xytext=(size * 0.278, 0), textcoords='offset points',
                fontsize=size, ha='left', va='bottom', color=BLUE)


for x, y, a, b in [(108, 748, 'GH1 vs.', 'H9C2'), (272, 748, 'GH3 vs.', 'H9C2'),
                   (452, 748, 'GH3 vs.', 'FR'), (602, 748, 'GH1 vs.', 'FR'),
                   (120, 1586, 'GH1 vs.', 'H9C2'), (276, 1586, 'GH3 vs.', 'H9C2'),
                   (465, 1586, 'GH3 vs.', 'FR'), (627, 1586, 'GH1 vs.', 'FR')]:
    two_color(x, y, a, b)

# bottom legend
bg.scatter([588], [1653], s=340, c=RED, linewidths=0)
bg.text(618, 1653, '|Log2 FC| \u2265 5', fontsize=14.5, ha='left', va='center')

fig.savefig('out.png', dpi=100, facecolor='white')
